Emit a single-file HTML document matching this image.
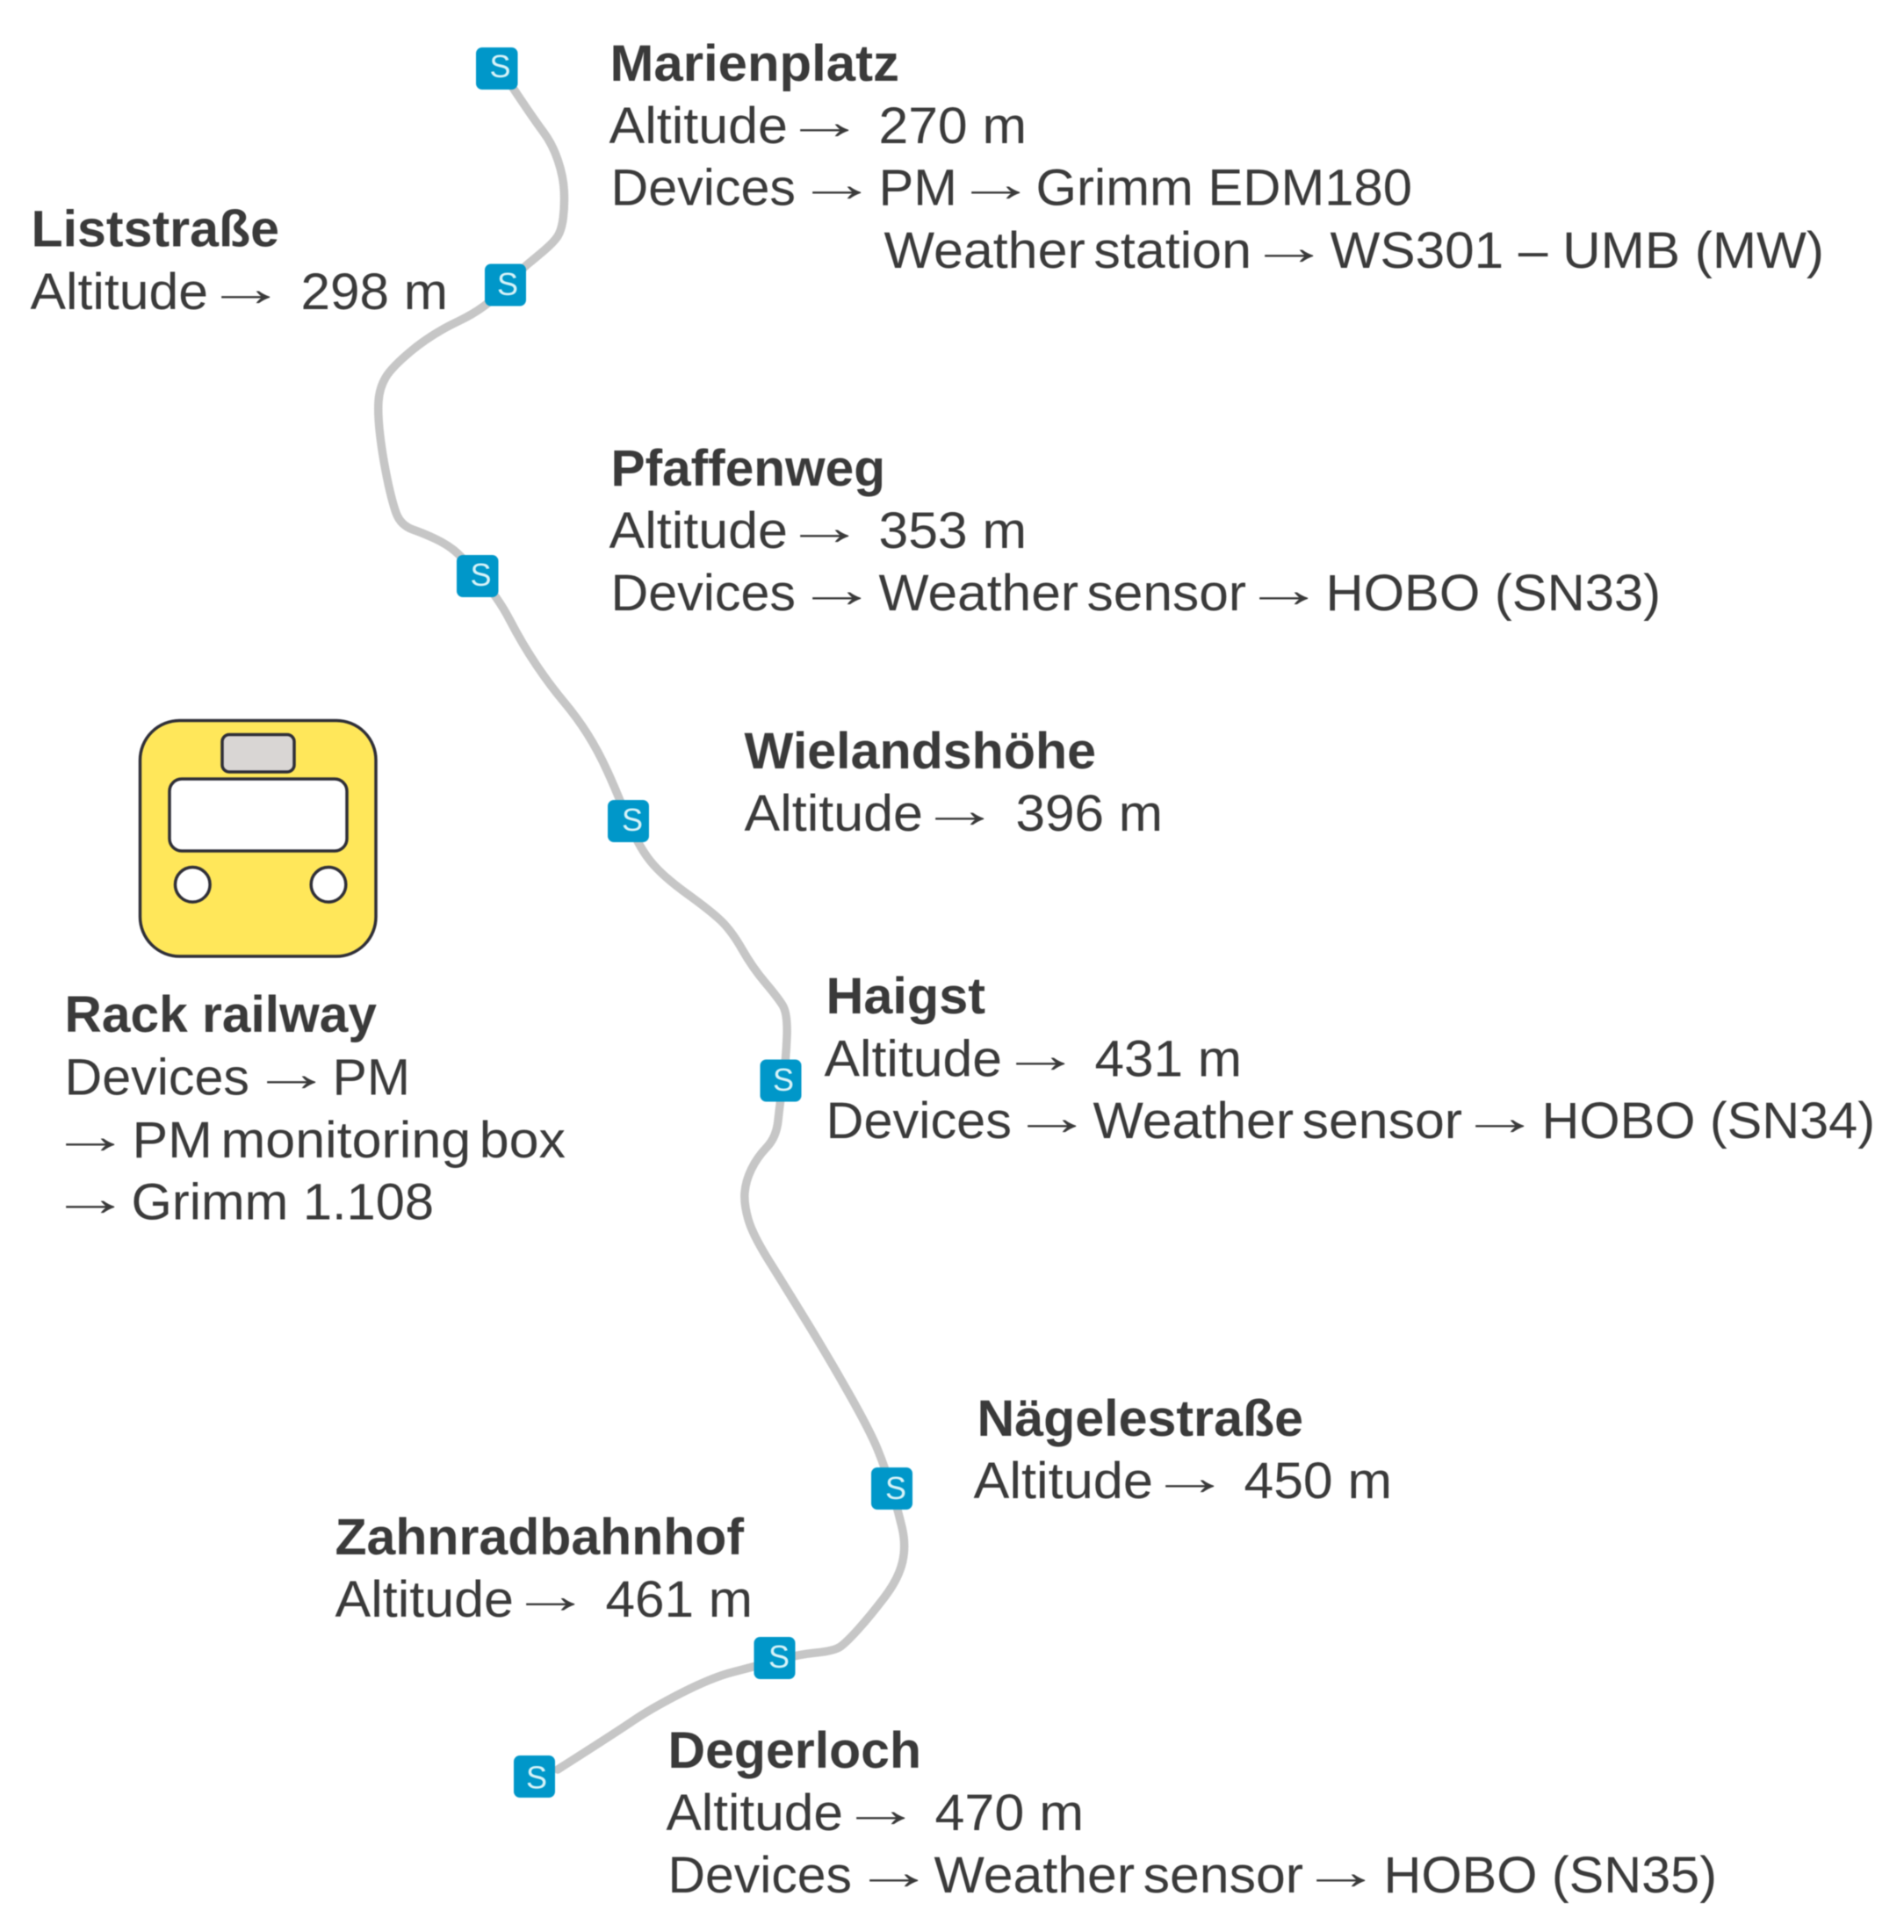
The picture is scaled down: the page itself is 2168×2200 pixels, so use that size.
<!DOCTYPE html>
<html><head><meta charset="utf-8"><style>
html,body{margin:0;padding:0;background:#fff;width:2168px;height:2200px;overflow:hidden}
svg{display:block;filter:blur(0.6px)}
text{font-family:"Liberation Sans",sans-serif;font-size:58px;fill:#3a3a3a}
.b{font-weight:bold}
.s{font-size:36px;fill:#d8f3f8}
.t{fill:#0097c9}
.w{word-spacing:-7px}
</style></head><body>
<svg width="2168" height="2200" viewBox="0 0 2168 2200" xmlns="http://www.w3.org/2000/svg">
<path fill="none" stroke="#c6c6c6" stroke-width="9.5" stroke-linecap="round" stroke-linejoin="round" d="M584,100 Q608,136 618.5,150 Q629,164 635.25,182.5 Q641.5,201 642.25,217.5 Q643,234 641.25,248 Q639.5,262 635,269 Q630.5,276 619.25,285.5 Q608,295 601.25,300.5 Q594.5,306 573.75,328.5 Q553,351 522.5,365.5 Q492,380 469,399 Q446,418 439,430 Q432,442 431,457 Q430,472 432.75,495.5 Q435.5,519 440.75,544.5 Q446,570 451,584 Q456,598 470,603 Q484,608 496,613.75 Q508,619.5 516.5,626.25 Q525,633 546,656.5 Q567,680 580.75,706.5 Q594.5,733 610.25,756.5 Q626,780 641.5,798.5 Q657,817 669,836 Q681,855 691.5,878 Q702,901 714,931.5 Q726,962 739.75,979.5 Q753.5,997 781.25,1017 Q809,1037 821,1048.5 Q833,1060 845,1081 Q857,1102 871,1118.5 Q885,1135 891,1144.5 Q897,1154 896,1180.5 Q895,1207 891.5,1232 Q888,1257 886,1276 Q884,1295 873,1306.5 Q862,1318 855.5,1331.5 Q849,1345 848,1358 Q847,1371 852,1388.5 Q857,1406 875.75,1436 Q894.5,1466 918.75,1505.5 Q943,1545 967,1587.5 Q991,1630 999.5,1651 Q1008,1672 1015,1695 Q1022,1718 1027,1739 Q1032,1760 1027.5,1779 Q1023,1798 1007,1819 Q991,1840 977.5,1855 Q964,1870 957,1875 Q950,1880 929,1882 Q908,1884 883,1891 Q858,1898 834.5,1904 Q811,1910 776.5,1927.5 Q742,1945 721.5,1959 Q701,1973 635,2015"/>

<!-- badges -->
<g class="t">
<rect x="542" y="54" width="47.5" height="48" rx="7"/>
<rect x="552" y="300.5" width="47" height="48" rx="7"/>
<rect x="520" y="632" width="47.5" height="48" rx="7"/>
<rect x="692" y="911" width="47" height="48" rx="7"/>
<rect x="865.5" y="1206.5" width="47" height="48" rx="7"/>
<rect x="992" y="1671" width="47" height="48" rx="7"/>
<rect x="858.5" y="1864" width="47" height="48" rx="7"/>
<rect x="585" y="1999" width="47" height="48" rx="7"/>
</g>
<g text-anchor="middle">
<text class="s" x="569.5" y="88">S</text>
<text class="s" x="578" y="336">S</text>
<text class="s" x="547.5" y="667">S</text>
<text class="s" x="720" y="946">S</text>
<text class="s" x="892" y="1242">S</text>
<text class="s" x="1020" y="1707">S</text>
<text class="s" x="887" y="1899">S</text>
<text class="s" x="611" y="2036.5">S</text>
</g>

<!-- train -->
<rect x="159.5" y="820.5" width="268.5" height="268.5" rx="45" fill="#ffe75a" stroke="#2f2f38" stroke-width="3.5"/>
<rect x="253" y="836.5" width="82" height="42.5" rx="8" fill="#d9d6d4" stroke="#2f2f38" stroke-width="3.5"/>
<rect x="193" y="887" width="202" height="82" rx="14" fill="#fff" stroke="#2f2f38" stroke-width="3.5"/>
<circle cx="219.3" cy="1007.3" r="19.8" fill="#fff" stroke="#2f2f38" stroke-width="3.5"/>
<circle cx="374" cy="1007.3" r="19.8" fill="#fff" stroke="#2f2f38" stroke-width="3.5"/>

<!-- Marienplatz -->
<text class="b" x="694.5" y="92" textLength="329.5" lengthAdjust="spacingAndGlyphs">Marienplatz</text>
<text x="693.5" y="163" textLength="203.5" lengthAdjust="spacingAndGlyphs">Altitude</text>
<text x="892" y="158" textLength="93" lengthAdjust="spacingAndGlyphs">→</text>
<text x="1000.5" y="163" textLength="168.5" lengthAdjust="spacingAndGlyphs">270 m</text>
<text x="695.5" y="233.5" textLength="210.5" lengthAdjust="spacingAndGlyphs">Devices</text>
<text x="906" y="229" textLength="93" lengthAdjust="spacingAndGlyphs">→</text>
<text x="1000.5" y="233.5" textLength="89.5" lengthAdjust="spacingAndGlyphs">PM</text>
<text x="1087" y="229" textLength="93" lengthAdjust="spacingAndGlyphs">→</text>
<text x="1179.5" y="233.5" textLength="428.5" lengthAdjust="spacingAndGlyphs">Grimm EDM180</text>
<text class="w" x="1006.5" y="305" textLength="418.5" lengthAdjust="spacingAndGlyphs">Weather station</text>
<text x="1421" y="301" textLength="93" lengthAdjust="spacingAndGlyphs">→</text>
<text x="1514.5" y="305" textLength="562.5" lengthAdjust="spacingAndGlyphs">WS301 – UMB (MW)</text>

<!-- Liststraße -->
<text class="b" x="35.5" y="280.5" textLength="282.5" lengthAdjust="spacingAndGlyphs">Liststraße</text>
<text x="34.5" y="352" textLength="202.5" lengthAdjust="spacingAndGlyphs">Altitude</text>
<text x="233" y="348" textLength="93" lengthAdjust="spacingAndGlyphs">→</text>
<text x="342.5" y="352" textLength="167.5" lengthAdjust="spacingAndGlyphs">298 m</text>

<!-- Pfaffenweg -->
<text class="b" x="695.5" y="553" textLength="312.5" lengthAdjust="spacingAndGlyphs">Pfaffenweg</text>
<text x="693.5" y="624" textLength="203.5" lengthAdjust="spacingAndGlyphs">Altitude</text>
<text x="892" y="620" textLength="93" lengthAdjust="spacingAndGlyphs">→</text>
<text x="1000.5" y="624" textLength="168.5" lengthAdjust="spacingAndGlyphs">353 m</text>
<text x="695.5" y="695" textLength="210.5" lengthAdjust="spacingAndGlyphs">Devices</text>
<text x="906" y="691" textLength="93" lengthAdjust="spacingAndGlyphs">→</text>
<text class="w" x="1000.5" y="695" textLength="418.5" lengthAdjust="spacingAndGlyphs">Weather sensor</text>
<text x="1415" y="691" textLength="93" lengthAdjust="spacingAndGlyphs">→</text>
<text x="1509.5" y="695" textLength="381.5" lengthAdjust="spacingAndGlyphs">HOBO (SN33)</text>

<!-- Wielandshöhe -->
<text class="b" x="847.5" y="875" textLength="400.5" lengthAdjust="spacingAndGlyphs">Wielandshöhe</text>
<text x="847.5" y="946" textLength="203.5" lengthAdjust="spacingAndGlyphs">Altitude</text>
<text x="1046" y="942" textLength="93" lengthAdjust="spacingAndGlyphs">→</text>
<text x="1156.5" y="946" textLength="167.5" lengthAdjust="spacingAndGlyphs">396 m</text>

<!-- Haigst -->
<text class="b" x="940.5" y="1154" textLength="181.5" lengthAdjust="spacingAndGlyphs">Haigst</text>
<text x="938.5" y="1225.5" textLength="202.5" lengthAdjust="spacingAndGlyphs">Altitude</text>
<text x="1138" y="1221" textLength="93" lengthAdjust="spacingAndGlyphs">→</text>
<text x="1246.5" y="1225.5" textLength="167.5" lengthAdjust="spacingAndGlyphs">431 m</text>
<text x="940.5" y="1296" textLength="211.5" lengthAdjust="spacingAndGlyphs">Devices</text>
<text x="1151" y="1292" textLength="93" lengthAdjust="spacingAndGlyphs">→</text>
<text class="w" x="1244.5" y="1296" textLength="420.5" lengthAdjust="spacingAndGlyphs">Weather sensor</text>
<text x="1661" y="1292" textLength="93" lengthAdjust="spacingAndGlyphs">→</text>
<text x="1755.5" y="1296" textLength="379.5" lengthAdjust="spacingAndGlyphs">HOBO (SN34)</text>

<!-- Rack railway -->
<text class="b" x="73.5" y="1175" textLength="355.5" lengthAdjust="spacingAndGlyphs">Rack railway</text>
<text x="73.5" y="1246.5" textLength="210.5" lengthAdjust="spacingAndGlyphs">Devices</text>
<text x="285" y="1242" textLength="93" lengthAdjust="spacingAndGlyphs">→</text>
<text x="378.5" y="1246.5" textLength="88.5" lengthAdjust="spacingAndGlyphs">PM</text>
<text x="56" y="1313" textLength="93" lengthAdjust="spacingAndGlyphs">→</text>
<text class="w" x="150.5" y="1318" textLength="493.5" lengthAdjust="spacingAndGlyphs">PM monitoring box</text>
<text x="56" y="1384" textLength="93" lengthAdjust="spacingAndGlyphs">→</text>
<text x="149.5" y="1388.5" textLength="344.5" lengthAdjust="spacingAndGlyphs">Grimm 1.108</text>

<!-- Nägelestraße -->
<text class="b" x="1112.5" y="1635" textLength="371.5" lengthAdjust="spacingAndGlyphs">Nägelestraße</text>
<text x="1108.5" y="1706" textLength="204.5" lengthAdjust="spacingAndGlyphs">Altitude</text>
<text x="1308" y="1702" textLength="93" lengthAdjust="spacingAndGlyphs">→</text>
<text x="1416.5" y="1706" textLength="168.5" lengthAdjust="spacingAndGlyphs">450 m</text>

<!-- Zahnradbahnhof -->
<text class="b" x="381.5" y="1770" textLength="465.5" lengthAdjust="spacingAndGlyphs">Zahnradbahnhof</text>
<text x="381.5" y="1841" textLength="203.5" lengthAdjust="spacingAndGlyphs">Altitude</text>
<text x="580" y="1836.5" textLength="93" lengthAdjust="spacingAndGlyphs">→</text>
<text x="689.5" y="1841" textLength="167.5" lengthAdjust="spacingAndGlyphs">461 m</text>

<!-- Degerloch -->
<text class="b" x="760.5" y="2013" textLength="288.5" lengthAdjust="spacingAndGlyphs">Degerloch</text>
<text x="758.5" y="2084" textLength="201.5" lengthAdjust="spacingAndGlyphs">Altitude</text>
<text x="956" y="2080" textLength="93" lengthAdjust="spacingAndGlyphs">→</text>
<text x="1064.5" y="2084" textLength="169.5" lengthAdjust="spacingAndGlyphs">470 m</text>
<text x="760.5" y="2155" textLength="209.5" lengthAdjust="spacingAndGlyphs">Devices</text>
<text x="971" y="2151" textLength="93" lengthAdjust="spacingAndGlyphs">→</text>
<text class="w" x="1063.5" y="2155" textLength="420.5" lengthAdjust="spacingAndGlyphs">Weather sensor</text>
<text x="1480" y="2151" textLength="93" lengthAdjust="spacingAndGlyphs">→</text>
<text x="1575.5" y="2155" textLength="379.5" lengthAdjust="spacingAndGlyphs">HOBO (SN35)</text>
</svg>
</body></html>
